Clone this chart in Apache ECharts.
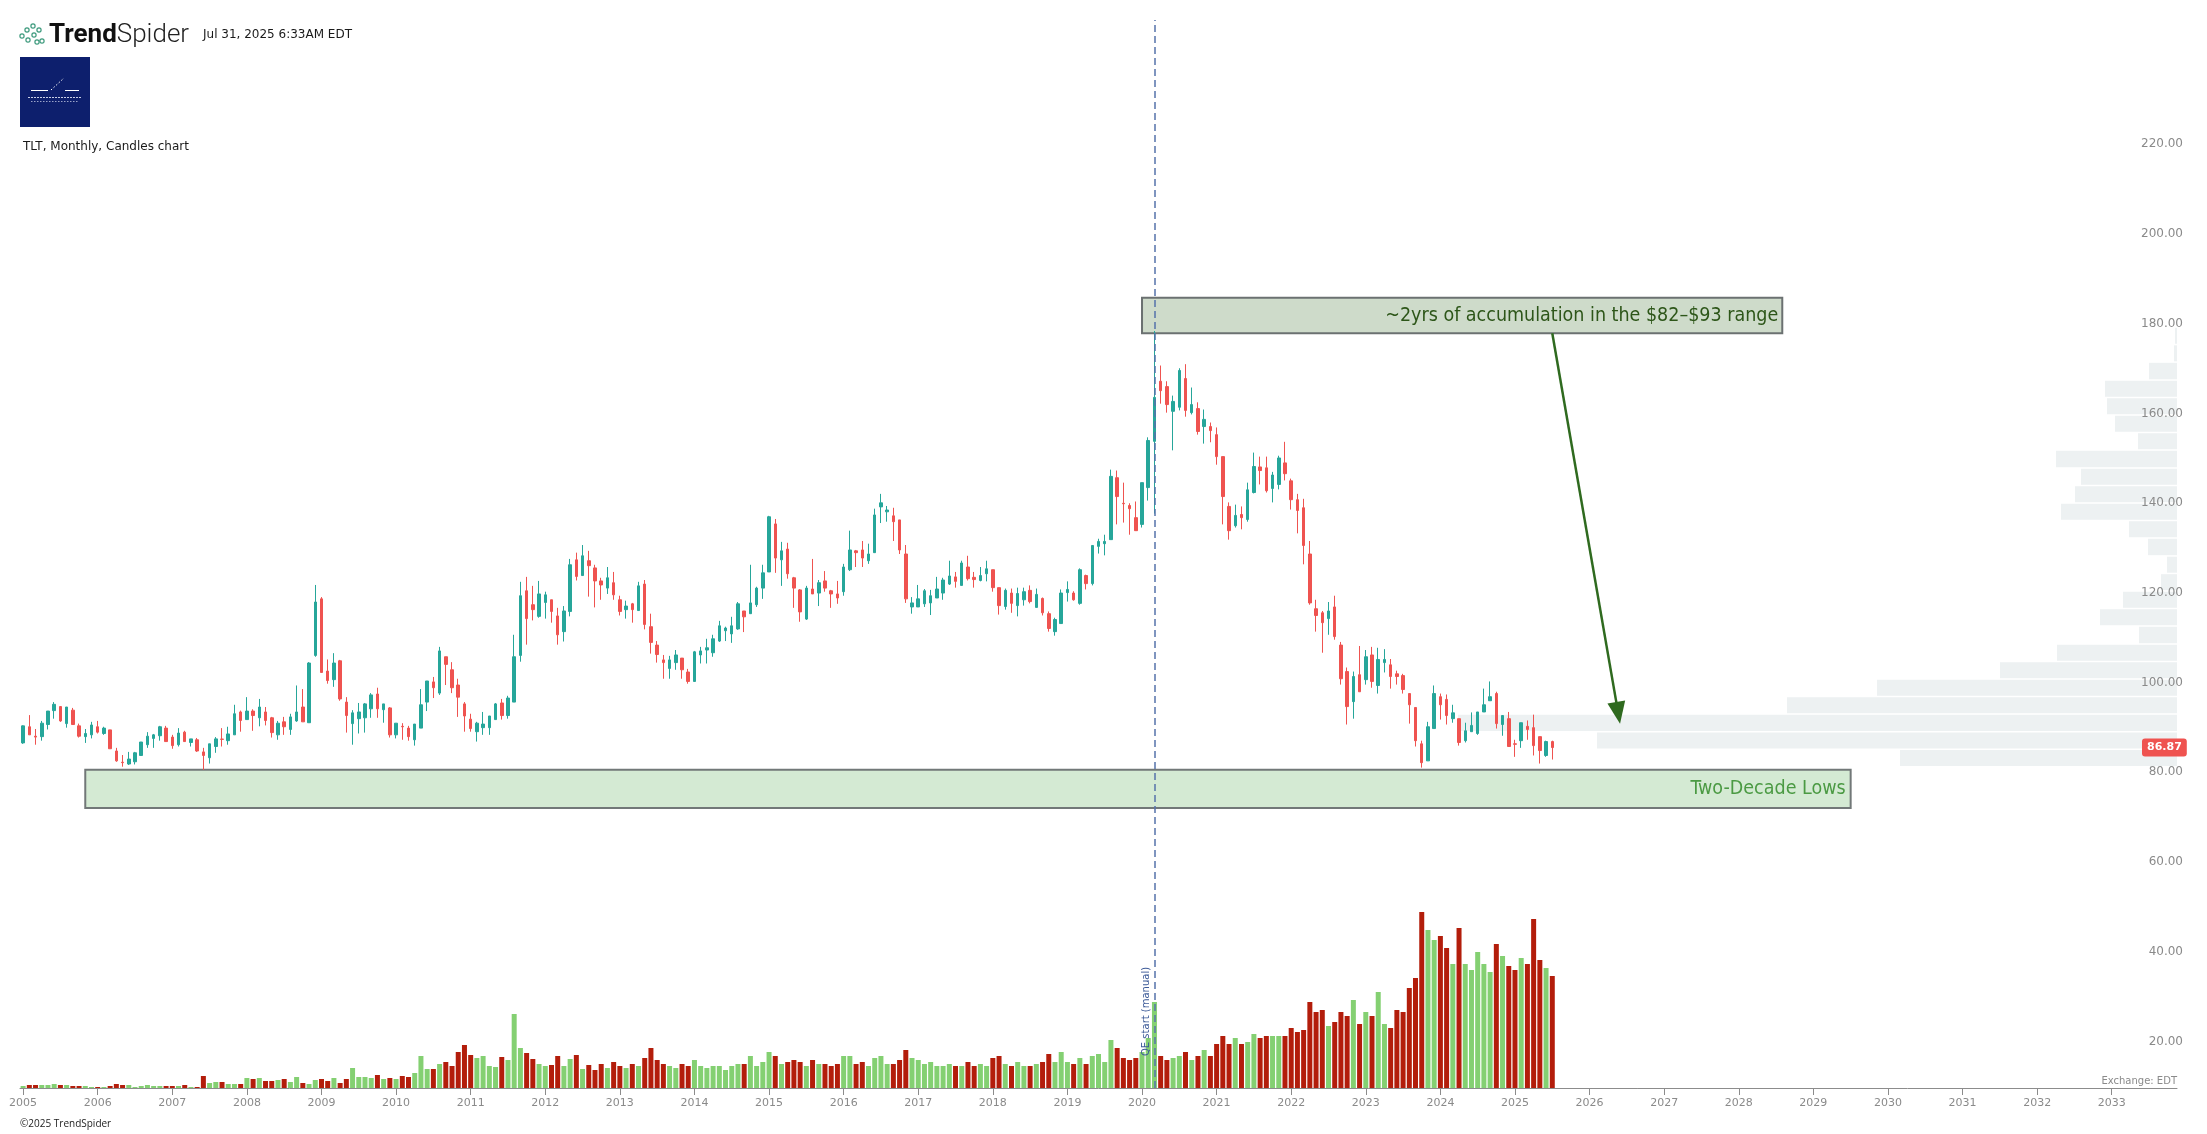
<!DOCTYPE html>
<html><head><meta charset="utf-8">
<script src="https://cdn.jsdelivr.net/npm/echarts@6/dist/echarts.min.js"></script>
<style>html,body{margin:0;padding:0;background:#fff}#c{width:2207px;height:1134px}</style>
</head><body><div id="c"></div>
<script>
// ---------- DATA (TLT monthly, 2005-01 .. 2025-07) ----------
const yearTicks = ['2005','2006','2007','2008','2009','2010','2011','2012','2013','2014','2015','2016','2017','2018','2019','2020','2021','2022','2023','2024','2025','2026','2027','2028','2029','2030','2031','2032','2033'];
const priceTicks = [20,40,60,80,100,120,140,160,180,200,220];

const open = [
87.9,91.5,89.4,89.3,92.0,95.1,96.0,92.2,95.2,91.7,89.3,89.7,
91.5,90.0,90.8,86.1,83.6,83.2,83.7,85.1,87.5,88.9,89.5,91.2,
89.2,87.5,90.3,88.0,88.6,85.9,84.6,87.1,88.75,88.4,89.7,94.8,
93.1,95.0,93.5,94.8,93.5,89.7,92.6,90.9,92.8,95.9,92.4,107.4,
120.0,103.9,102.0,106.2,97.0,92.2,93.3,93.5,95.5,98.8,95.3,95.7,
89.7,91.6,91.2,88.6,91.2,97.0,101.5,99.0,107.1,104.2,100.8,96.6,
93.2,90.4,91.3,91.3,93.1,96.8,94.0,97.0,107.4,121.8,118.7,116.1,
119.2,119.8,116.2,112.7,117.2,128.7,125.2,128.5,126.9,124.0,122.4,123.6,
119.8,117.6,118.9,117.4,123.3,113.8,109.7,106.4,104.5,105.8,106.8,103.7,
101.6,107.5,108.6,108.0,110.6,112.9,112.2,113.3,117.3,116.7,118.7,122.4,
126.0,136.7,128.7,131.1,124.7,122.0,115.5,122.2,121.3,124.0,121.8,121.1,
121.6,126.5,130.7,130.9,128.5,130.3,140.5,139.4,138.5,137.6,130.0,118.2,
118.2,118.9,119.1,120.2,121.3,123.3,124.9,123.0,127.1,124.8,124.1,125.6,
126.5,122.5,118.3,121.3,118.5,119.8,121.9,118.1,120.1,116.7,112.7,114.5,
121.4,121.3,119.0,125.2,123.4,131.7,132.3,133.2,147.0,141.3,140.8,138.1,
136.6,144.8,155.1,168.5,167.3,161.8,162.7,169.1,161.5,162.4,158.4,158.4,
156.6,151.7,140.6,136.3,138.8,137.7,143.7,149.4,149.2,144.6,145.5,150.3,
146.3,142.1,140.3,130.0,117.8,116.9,115.6,118.2,109.7,103.8,97.1,103.1,
102.0,107.5,100.7,105.8,105.3,103.3,102.9,98.9,95.8,87.7,83.9,91.1,
98.2,97.6,93.3,93.3,88.4,90.4,90.0,94.8,97.3,98.9,92.0,93.3,
87.7,88.4,91.6,91.3,89.3,85.1,88.2];
const close = [
91.7,89.7,89.2,92.3,95.0,96.5,92.8,95.9,92.0,89.4,90.0,91.9,
90.3,91.2,86.6,83.9,83.5,84.3,85.7,88.1,89.4,89.7,91.5,88.2,
87.3,90.1,88.2,88.8,86.1,85.1,87.7,88.8,88.7,89.9,94.4,92.9,
95.0,94.0,95.9,92.9,90.2,92.3,91.5,93.7,94.8,92.6,105.7,119.3,
103.6,101.8,105.7,97.7,94.0,94.6,94.8,96.6,98.6,95.5,96.6,89.7,
92.3,91.5,89.3,92.1,96.4,101.7,100.2,108.4,105.4,100.2,98.1,93.9,
91.1,92.3,92.1,93.9,96.6,94.0,97.9,107.1,120.7,115.6,117.6,121.1,
120.9,117.2,112.0,117.3,127.6,125.0,129.6,127.4,124.0,123.1,124.7,120.9,
117.2,118.4,117.6,122.9,114.3,110.3,107.6,105.8,106.4,107.5,104.2,101.6,
108.2,108.4,109.1,111.1,114.0,113.5,114.0,118.9,116.0,119.1,122.4,125.8,
138.3,129.1,130.7,125.6,122.4,117.1,122.4,121.1,123.6,122.4,121.1,120.2,
127.1,130.9,130.3,129.1,130.0,138.7,141.4,139.8,137.2,130.9,120.0,119.1,
120.0,121.8,120.7,122.2,124.2,125.1,123.9,128.0,124.5,124.3,125.2,126.7,
122.5,118.5,121.9,119.0,121.2,121.6,119.4,121.0,116.9,113.4,115.4,121.3,
122.1,119.8,126.5,123.4,131.9,132.8,132.8,147.3,142.8,141.2,140.1,135.2,
145.9,155.3,164.9,166.4,163.3,164.0,170.9,162.0,163.3,157.3,160.0,157.5,
151.7,142.8,135.2,138.6,138.1,144.3,149.5,148.6,144.1,147.6,151.4,147.9,
142.1,139.7,131.9,119.1,116.3,114.7,117.3,111.6,102.2,96.0,102.7,99.3,
107.1,101.6,106.5,106.5,102.7,102.7,99.8,96.4,88.4,83.5,91.5,98.9,
96.4,94.0,94.6,88.0,90.6,91.8,94.8,96.4,98.2,92.2,94.0,87.1,
87.6,92.4,90.9,87.3,86.2,88.2,86.87];
const low = [
87.7,89.7,87.5,88.4,90.9,93.3,92.6,91.3,92.0,89.1,87.9,88.9,
90.0,89.7,86.6,83.7,82.6,83.0,83.1,85.1,86.8,86.8,88.4,88.2,
86.6,87.1,88.2,87.1,85.9,81.9,83.3,85.7,87.1,87.5,89.7,90.4,
93.1,90.6,91.6,91.8,89.1,88.6,89.7,89.7,92.6,92.6,92.4,107.1,
103.6,101.1,100.4,97.3,90.2,87.5,90.0,90.2,93.5,93.5,92.4,89.1,
88.9,88.6,88.4,87.3,91.2,95.0,97.9,98.6,100.8,99.0,93.7,90.4,
90.4,88.2,89.7,89.7,93.1,93.1,93.3,97.0,106.0,109.8,115.2,115.8,
115.6,114.7,109.8,110.5,116.1,124.1,125.2,120.5,118.1,119.8,121.1,119.8,
116.3,115.6,114.7,117.4,113.2,107.8,105.8,102.2,102.2,104.2,102.2,101.1,
101.6,105.6,105.6,107.1,110.4,110.6,110.2,113.1,112.6,116.7,118.2,120.0,
126.0,125.8,122.9,124.5,118.0,114.9,115.3,121.1,118.4,121.6,118.0,118.9,
120.7,126.2,127.1,127.1,127.8,130.3,136.9,137.2,132.9,130.0,119.1,116.7,
118.2,118.2,116.4,120.2,119.8,123.1,122.5,123.0,124.1,122.5,123.9,123.9,
121.6,116.5,117.6,116.9,116.1,118.5,119.0,118.1,116.3,112.7,111.8,114.5,
119.4,119.6,118.7,122.1,123.0,130.1,129.7,133.2,136.6,137.0,134.3,135.2,
135.9,141.9,139.0,163.5,161.5,153.1,162.0,160.6,161.1,156.6,154.6,154.9,
149.9,136.6,133.2,135.9,135.5,137.2,143.5,145.5,143.7,141.5,144.4,146.4,
139.9,134.6,127.7,118.7,112.7,108.0,112.0,110.9,100.9,92.0,93.3,99.3,
100.9,100.2,98.9,103.6,100.0,100.9,98.9,92.2,87.1,82.4,83.9,91.1,
93.1,92.0,92.4,87.3,88.0,90.4,89.7,94.8,97.3,91.1,89.5,87.1,
84.8,86.8,88.6,85.1,83.3,84.8,84.2];
const high = [
91.8,94.1,91.0,92.8,95.0,97.0,96.1,95.9,95.7,92.2,91.0,92.6,
92.8,91.5,90.8,86.8,85.2,85.9,85.9,88.1,90.3,89.9,91.7,91.7,
89.7,91.2,90.6,88.8,89.0,86.8,87.7,89.2,91.2,91.5,96.4,95.1,
98.1,95.4,97.7,95.9,93.7,92.8,93.7,94.4,100.7,99.9,105.9,123.1,
120.4,106.5,107.9,106.4,98.1,95.2,96.8,96.8,99.0,100.2,96.6,95.9,
92.3,92.3,91.7,92.1,99.9,101.7,102.6,109.3,107.1,105.9,102.2,97.0,
94.4,92.6,94.8,93.9,96.8,97.7,98.4,112.0,123.8,124.9,122.9,124.0,
121.6,119.8,118.0,118.4,128.9,130.3,132.0,130.7,127.6,124.7,127.1,126.0,
120.7,119.6,119.1,123.8,124.2,116.7,110.6,107.5,107.3,108.6,106.8,104.4,
108.4,109.3,111.1,112.0,115.1,113.8,116.0,119.3,117.3,127.6,122.7,127.6,
138.5,137.8,132.7,132.5,124.9,122.2,122.9,128.9,124.2,126.2,122.0,124.0,
127.8,135.2,130.9,132.9,132.3,140.1,143.4,140.7,140.3,137.6,132.0,120.4,
123.1,122.2,122.0,124.9,124.7,128.5,126.0,128.5,129.6,126.0,127.1,128.5,
126.5,122.5,122.3,122.3,122.5,122.5,123.0,122.3,120.3,117.2,115.8,122.1,
123.9,121.7,126.8,125.4,131.9,133.4,134.3,148.8,148.6,145.9,141.3,141.7,
145.9,156.0,179.7,172.0,168.5,165.3,171.4,172.3,167.1,163.8,162.2,159.3,
158.2,151.7,141.5,141.0,140.6,145.9,152.6,151.7,151.7,148.3,151.9,155.0,
146.8,143.4,142.3,132.9,119.8,117.3,119.3,120.7,110.4,104.7,103.8,109.5,
108.6,109.3,109.1,108.8,106.6,104.0,103.3,98.9,95.8,88.4,92.6,100.7,
98.9,98.7,96.4,93.3,92.4,94.7,94.8,100.0,101.6,99.3,94.0,94.8,
88.6,92.4,92.9,94.2,89.3,88.4,88.4];
// monthly volume, millions of shares
const volume = [
14,21,21,21,21,28,21,21,14,14,14,7,
7,7,14,28,21,21,7,14,21,14,14,14,
14,14,21,7,7,84,35,42,42,28,28,28,
70,63,70,49,49,56,63,42,77,35,28,56,
63,49,70,35,63,140,77,77,70,91,63,70,
63,84,77,105,224,133,133,168,182,154,252,301,
231,210,224,154,147,217,196,518,280,245,203,168,
154,161,224,154,203,231,133,161,126,168,140,182,
154,140,168,154,210,280,196,168,154,140,168,154,
196,154,140,154,154,126,154,168,168,224,154,182,
252,224,168,182,196,182,154,196,168,168,154,168,
224,224,168,182,154,210,224,168,168,196,266,210,
196,168,182,154,154,168,154,154,182,154,168,154,
210,224,168,154,182,154,154,168,182,238,182,252,
182,168,210,168,224,238,182,336,280,210,196,210,
252,350,602,224,196,210,224,252,196,224,266,224,
308,364,308,350,308,322,378,350,364,364,364,364,
420,392,406,602,532,546,434,462,532,504,616,448,
532,504,672,448,420,546,532,700,770,1232,1106,1036,
1064,980,868,1120,868,826,952,868,812,1008,924,854,
826,910,868,1183,896,840,784];
// volume-by-price profile: bin edges (price) and volume per bin
const profileEdges = [82.4,86.3,90.2,94.2,98.1,102.0,105.9,109.8,113.8,117.7,121.6,125.5,129.4,133.4,137.3,141.2,145.1,149.0,153.0,156.9,160.8,164.7,168.6,172.6,176.5,180.4];
const profileVolume = [5540,11600,14380,7800,6000,3540,2400,760,1540,1080,320,200,580,960,2320,2040,1920,2420,780,1240,1400,1440,560,60,40];

// annotations (data coordinates)
const qeStart = '2020-03';
const lastPrice = 86.87;
const accumBox = {from:'2020-01', to:'2028-08', low:179.2, high:187.1, text:'~2yrs of accumulation in the $82\u2013$93 range'};
const lowsBox = {from:'2005-11', to:'2029-07', low:73.4, high:81.9, text:'Two-Decade Lows'};
const arrowFrom = {month:'2025-07', price:179.2};
const arrowTo = {month:'2026-05', frac:0.6, price:94.6};

// ---------- BUILD ----------
const N = open.length;
const monthLabels = Array.from({length:N}, (_, i) => (2005 + Math.floor(i/12)) + '-' + String(i%12+1).padStart(2,'0'));
const idx = m => { const p = m.split('-').map(Number); return (p[0]-2005)*12 + p[1]-1; };
const yearPos = yearTicks.map(y => idx(y + '-01'));

const UP = '#26a69a', DN = '#ef5350', VUP = '#84d072', VDN = '#b31d0b';
const AXC = '#8c8c8c';
const FONT = '"DejaVu Sans", Verdana, sans-serif';
const NARROW = '"DejaVu Sans Condensed", "Liberation Sans Narrow", "Roboto Condensed", sans-serif';

const candleData = monthLabels.map((m, i) => [i, open[i], close[i], low[i], high[i]]);
const volData = volume.map((v, i) => ({value:[i, v], itemStyle:{color: close[i] >= open[i] ? VUP : VDN}}));
const profData = profileVolume.map((v, i) => [v, profileEdges[i], profileEdges[i+1]]);

const chart = echarts.init(document.getElementById('c'), null, {renderer:'canvas', width:2207, height:1134});

const icon = [[22,36],[27,30],[28,40],[33,26],[34,35],[39,30],[42,41],[37,42]];
const graphics = [];
icon.forEach(p => graphics.push({type:'circle', shape:{cx:p[0], cy:p[1], r:2.1}, style:{fill:'#fff', stroke:'#3f9b7e', lineWidth:1.2}}));
graphics.push(
  {type:'text', x:49, y:35, style:{text:'{a|Trend}{b|Spider}', rich:{a:{fontSize:26, fontWeight:'bold', fontFamily:'Roboto, sans-serif', fill:'#111', color:'#111'}, b:{fontSize:26, fontWeight:300, fontFamily:'Roboto, sans-serif', fill:'#222', color:'#222'}}, verticalAlign:'middle', textVerticalAlign:'middle'}},
  {type:'text', x:203, y:35, style:{text:'Jul 31, 2025 6:33AM EDT', font:'12px ' + FONT, fill:'#1a1a1a', verticalAlign:'middle', textVerticalAlign:'middle'}},
  {type:'rect', shape:{x:20, y:57, width:70, height:70}, style:{fill:'#0d1f6d'}},
  {type:'line', shape:{x1:31, y1:90.5, x2:48, y2:90.5}, style:{stroke:'#fff', lineWidth:1}},
  {type:'line', shape:{x1:65, y1:90.5, x2:79, y2:90.5}, style:{stroke:'#fff', lineWidth:1}},
  {type:'line', shape:{x1:51, y1:90, x2:64, y2:78}, style:{stroke:'#fff', lineWidth:1, lineDash:[1.5,2]}},
  {type:'line', shape:{x1:28, y1:97.5, x2:82, y2:97.5}, style:{stroke:'#c9cfe6', lineWidth:1.2, lineDash:[2,1]}},
  {type:'line', shape:{x1:31, y1:101.5, x2:78, y2:101.5}, style:{stroke:'#9aa3c9', lineWidth:1, lineDash:[1.5,1.5]}},
  {type:'text', x:23, y:147, style:{text:'TLT, Monthly, Candles chart', font:'12px ' + FONT, fill:'#1a1a1a', verticalAlign:'middle', textVerticalAlign:'middle'}},
  {type:'text', x:20, y:1124, style:{text:'\u00a92025 TrendSpider', font:'10px "Open Sans", sans-serif', fill:'#222', verticalAlign:'middle', textVerticalAlign:'middle'}},
  {type:'text', x:2177, y:1081, style:{text:'Exchange: EDT', font:'10px ' + FONT, fill:'#8a8a8a', align:'right', textAlign:'right', verticalAlign:'middle', textVerticalAlign:'middle'}}
);

const option = {
  animation: false,
  backgroundColor: '#ffffff',
  grid: {left:20, right:30, top:20, bottom:46, containLabel:false},
  xAxis: [
    {type:'value', min:-0.5, max:346.5, position:'bottom', z:10,
     axisLine:{show:true, lineStyle:{color:AXC, width:1}},
     axisTick:{show:true, customValues:yearPos, length:7, lineStyle:{color:AXC}},
     axisLabel:{customValues:yearPos, formatter:v => yearTicks[Math.round(v/12)], color:'#8a8a8a', fontSize:11, fontFamily:FONT, margin:10},
     splitLine:{show:false}},
    {type:'value', inverse:true, min:0, max:43140, show:false, gridIndex:0}
  ],
  yAxis: [
    {type:'value', position:'right', min:11, max:249, z:10,
     axisLine:{show:false}, axisTick:{show:false}, splitLine:{show:false},
     axisLabel:{customValues:priceTicks, formatter:v => v.toFixed(2), color:'#8a8a8a', fontSize:12, fontFamily:FONT, align:'right', verticalAlign:'bottom', margin:6}},
    {type:'value', min:0, max:7476, show:false}
  ],
  graphic: graphics,
  series: [
    {type:'custom', name:'profile', xAxisIndex:1, yAxisIndex:0, z:1, silent:true, clip:false,
     data: profData, encode:{x:0, y:[1,2]},
     renderItem: (params, api) => {
       const p0 = api.coord([0, api.value(2)]);
       const p1 = api.coord([api.value(0), api.value(1)]);
       return {type:'rect', shape:{x:p1[0], y:p0[1], width:p0[0]-p1[0], height:Math.max(1, p1[1]-p0[1]-1.5)}, style:{fill:'#edf1f2'}};
     }},
    {type:'bar', name:'Volume', xAxisIndex:0, yAxisIndex:1, z:2, barWidth:5, data:volData, silent:true},
    {type:'candlestick', name:'TLT', xAxisIndex:0, yAxisIndex:0, z:3, barWidth:3,
     encode:{x:0, y:[1,2,3,4]},
     data: candleData,
     itemStyle:{color:UP, color0:DN, borderColor:UP, borderColor0:DN, borderWidth:1},
     markArea:{silent:true, z:1, data:[
       [{xAxis:idx(accumBox.from), yAxis:accumBox.high,
         itemStyle:{color:'#cedbca', borderColor:'#6b7171', borderWidth:2},
         label:{show:true, position:'insideRight', distance:5, formatter:accumBox.text, color:'#2d5619', fontSize:19.5, fontFamily:NARROW}},
        {xAxis:idx(accumBox.to), yAxis:accumBox.low}],
       [{xAxis:idx(lowsBox.from), yAxis:lowsBox.high,
         itemStyle:{color:'#d4ead3', borderColor:'#727878', borderWidth:2},
         label:{show:true, position:'insideRight', distance:6, formatter:lowsBox.text, color:'#4b9a43', fontSize:19.5, fontFamily:NARROW}},
        {xAxis:idx(lowsBox.to), yAxis:lowsBox.low}]
     ]},
     markLine:{silent:true, symbol:['none','none'], z:5, data:[
       {xAxis:idx(qeStart), lineStyle:{color:'#5573ab', type:[7,4], width:1.5},
        label:{show:true, formatter:'QE start (manual)', position:'insideStartTop', distance:[32,3], color:'#3c5a98', fontSize:10, fontFamily:FONT}},
       [{coord:[idx(arrowFrom.month), arrowFrom.price], lineStyle:{color:'#2f6a1f', width:2.5, type:'solid'}, label:{show:false}},
        {coord:[idx(arrowTo.month)+arrowTo.frac, arrowTo.price], symbol:'triangle', symbolSize:[18,22], itemStyle:{color:'#2f6a1f'}}]
     ]}
    },
    {type:'line', name:'last', xAxisIndex:0, yAxisIndex:0, z:12, data:[], silent:true,
     markLine:{silent:true, symbol:['none','none'], z:12, data:[
       {yAxis:lastPrice, lineStyle:{color:'rgba(0,0,0,0)', width:1},
        label:{show:true, position:'end', distance:-35, formatter:() => lastPrice.toFixed(2), color:'#fff', fontWeight:'bold', fontSize:11, fontFamily:FONT, backgroundColor:'#ef5350', padding:[4,5,3,5], borderRadius:3}}
     ]}}
  ]
};
chart.setOption(option);
</script>
</body></html>
